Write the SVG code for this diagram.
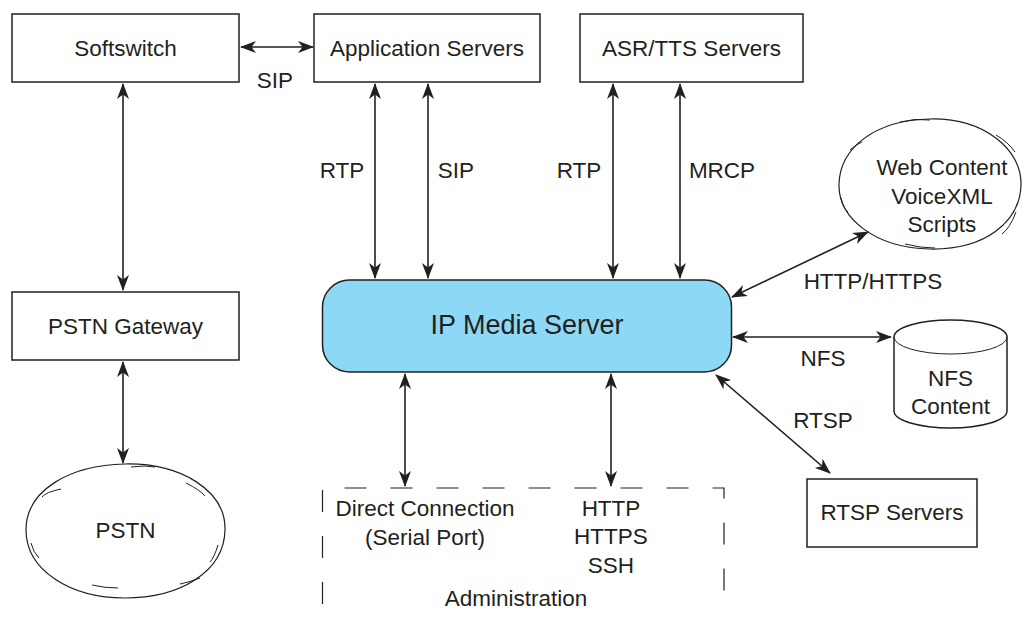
<svg xmlns="http://www.w3.org/2000/svg" width="1029" height="617" viewBox="0 0 1029 617">
  <defs>
    <marker id="ah" viewBox="0 0 16 12" refX="15" refY="6" markerWidth="16" markerHeight="12" markerUnits="userSpaceOnUse" orient="auto-start-reverse">
      <path d="M0,0 L16,6 L0,12 L4.5,6 Z" fill="#231f20"/>
    </marker>
  </defs>
  <style>
    .box { fill: #ffffff; stroke: #231f20; stroke-width: 1.5; }
    .cloud { fill: none; stroke: #231f20; stroke-width: 1.2; }
    .tick { fill: none; stroke: #231f20; stroke-width: 1; }
    .t { font-family: "Liberation Sans", Arial, sans-serif; font-size: 22.5px; fill: #231f20; text-anchor: middle; }
    .link { stroke: #231f20; stroke-width: 1.6; fill: none; marker-start: url(#ah); marker-end: url(#ah); }
  </style>
  <rect width="1029" height="617" fill="#ffffff"/>

  <g id="softswitch">
    <rect class="box" x="12" y="14" width="227" height="68"/>
    <text class="t" x="125.5" y="56">Softswitch</text>
  </g>
  <g id="app-servers">
    <rect class="box" x="314" y="14" width="226" height="68"/>
    <text class="t" x="427" y="56">Application Servers</text>
  </g>
  <g id="asr-tts">
    <rect class="box" x="580" y="14" width="223" height="68"/>
    <text class="t" x="691.5" y="56">ASR/TTS Servers</text>
  </g>
  <g id="pstn-gateway">
    <rect class="box" x="12" y="292" width="227" height="68"/>
    <text class="t" x="125.5" y="334">PSTN Gateway</text>
  </g>
  <g id="pstn">
    <path class="cloud" d="M125,464 C180,463 226,490 225,530 C224,572 180,598 125,598 C70,598 26,570 26,530 C26,490 70,465 125,464 Z"/>
    <path class="tick" d="M131,467 Q145,465 155,467 M186,483 Q200,490 205,496 M218,545 Q214,558 210,562 M180,584 Q190,582 200,578 M92,585 Q105,588 118,588 M31,543 Q33,552 39,558 M42,497 Q46,492 61,489"/>
    <text class="t" x="125.5" y="538">PSTN</text>
  </g>
  <g id="ip-media-server">
    <rect x="322.5" y="280" width="409" height="92" rx="27" ry="27" fill="#8dd8f5" stroke="#231f20" stroke-width="1.5"/>
    <text class="t" x="527" y="334" style="font-size:27px">IP Media Server</text>
  </g>
  <g id="web-content">
    <path class="cloud" d="M930,119 C985,118 1022,150 1021,185 C1020,222 985,250 930,249 C875,248 838,218 839,184 C840,148 875,120 930,119 Z"/>
    <path class="tick" d="M900,122 Q915,118 930,120 M996,135 Q1008,142 1015,152 M1016,212 Q1010,228 1002,234 M905,244 Q920,248 935,248 M841,198 Q843,208 848,212 M850,150 Q855,145 862,142"/>
    <text class="t" x="942" y="175">Web Content</text>
    <text class="t" x="942" y="204">VoiceXML</text>
    <text class="t" x="942" y="232">Scripts</text>
  </g>
  <g id="nfs-content">
    <path class="box" d="M894,337 A56.5,17 0 0 1 1007,337 L1007,411 A56.5,17 0 0 1 894,411 Z"/>
    <path class="tick" d="M894,337 A56.5,17 0 0 0 1007,337" stroke-width="1.5"/>
    <text class="t" x="950.5" y="386">NFS</text>
    <text class="t" x="950.5" y="414">Content</text>
  </g>
  <g id="rtsp-servers">
    <rect class="box" x="807" y="479" width="170" height="68"/>
    <text class="t" x="892" y="520">RTSP Servers</text>
  </g>
  <g id="administration">
    <path d="M322.5,606 L322.5,488 L724,488 L724,606" fill="none" stroke="#231f20" stroke-width="1.2" stroke-dasharray="22 24" stroke-dashoffset="-2"/>
    <text class="t" x="425" y="516">Direct Connection</text>
    <text class="t" x="425" y="545">(Serial Port)</text>
    <text class="t" x="611" y="516">HTTP</text>
    <text class="t" x="611" y="544">HTTPS</text>
    <text class="t" x="611" y="573">SSH</text>
    <text class="t" x="516" y="606">Administration</text>
  </g>

  <g id="connectors">
    <line class="link" x1="241" y1="47" x2="313" y2="47"/>
    <line class="link" x1="123" y1="84" x2="123" y2="290"/>
    <line class="link" x1="123" y1="362" x2="123" y2="463"/>
    <line class="link" x1="375" y1="84" x2="375" y2="278"/>
    <line class="link" x1="428" y1="84" x2="428" y2="278"/>
    <line class="link" x1="613" y1="84" x2="613" y2="278"/>
    <line class="link" x1="680" y1="84" x2="680" y2="278"/>
    <line class="link" x1="405" y1="374" x2="405" y2="486"/>
    <line class="link" x1="611" y1="374" x2="611" y2="486"/>
    <line class="link" x1="732" y1="297" x2="868" y2="232"/>
    <line class="link" x1="733" y1="337" x2="891" y2="337"/>
    <line class="link" x1="716" y1="375" x2="830" y2="473"/>
    <text class="t" x="275" y="88">SIP</text>
    <text class="t" x="342" y="178">RTP</text>
    <text class="t" x="456" y="178">SIP</text>
    <text class="t" x="579" y="178">RTP</text>
    <text class="t" x="722" y="178">MRCP</text>
    <text class="t" x="873" y="289">HTTP/HTTPS</text>
    <text class="t" x="823" y="366">NFS</text>
    <text class="t" x="823" y="428">RTSP</text>
  </g>
</svg>
